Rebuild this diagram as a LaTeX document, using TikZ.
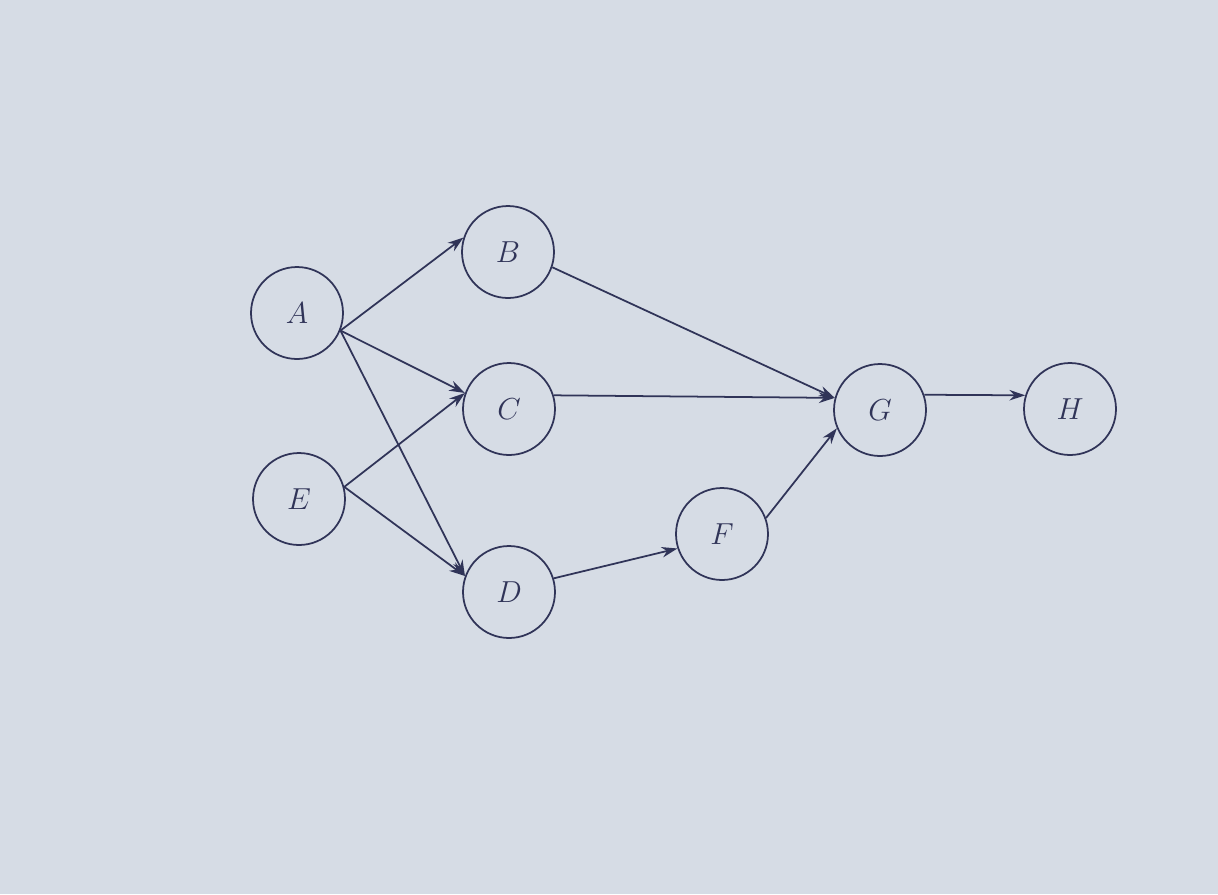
\documentclass[tikz,border=0pt]{standalone}
\usetikzlibrary{arrows.meta}
\definecolor{paper}{RGB}{214,220,229}
\definecolor{ink}{RGB}{48,52,88}
\begin{document}
\begin{tikzpicture}[x=0.02cm,y=-0.02cm,
  vert/.style={circle,draw=ink,line width=1pt,minimum size=1.84cm,inner sep=0pt,font=\fontsize{16}{19}\selectfont,text=ink},
  edge/.style={draw=ink,line width=1pt,-{Stealth[length=9pt,width=6pt]}}]
\fill[paper] (0,0) rectangle (1218,894);
\useasboundingbox (0,0) rectangle (1218,894);
\node[vert] (A) at (297,313) {$A$};
\node[vert] (B) at (508,252) {$B$};
\node[vert] (C) at (509,409) {$C$};
\node[vert] (E) at (299,499) {$E$};
\node[vert] (D) at (509,592) {$D$};
\node[vert] (F) at (722,534) {$F$};
\node[vert] (G) at (880,410) {$G$};
\node[vert] (H) at (1070,409) {$H$};
\draw[edge] (A.-22) -- (B.162);
\draw[edge] (A.-22) -- (C.160);
\draw[edge] (A.-22) -- (D.160);
\draw[edge] (E.15) -- (C.160);
\draw[edge] (E.15) -- (D.160);
\draw[edge] (B.-19) -- (G.165);
\draw[edge] (C.17) -- (G.165);
\draw[edge] (D.17) -- (F.198);
\draw[edge] (F.20) -- (G.-157);
\draw[edge] (G.19) -- (H.163);
\end{tikzpicture}
\end{document}
